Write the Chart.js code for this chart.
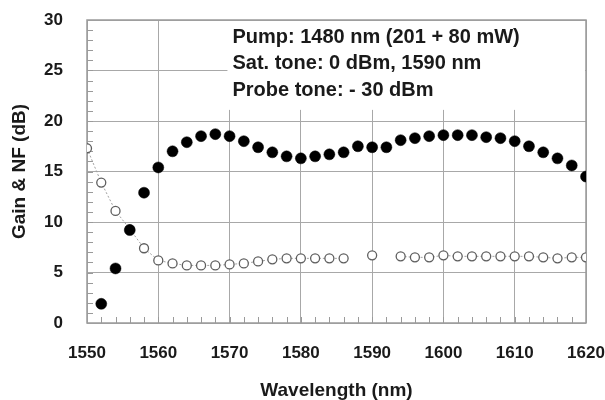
<!DOCTYPE html>
<html>
<head>
<meta charset="utf-8">
<script src="https://cdn.jsdelivr.net/npm/chart.js@4.4.1/dist/chart.umd.min.js"></script>
<style>
  html, body { margin: 0; padding: 0; background: #fff; }
  #wrap { width: 605px; height: 400px; }
</style>
</head>
<body>
<div id="wrap"><canvas id="chart"></canvas></div>
<script>
// gain (filled circles)
const gainWl = [1552, 1554, 1556, 1558, 1560, 1562, 1564, 1566, 1568, 1570, 1572, 1574,
  1576, 1578, 1580, 1582, 1584, 1586, 1588, 1590, 1592, 1594, 1596, 1598, 1600, 1602,
  1604, 1606, 1608, 1610, 1612, 1614, 1616, 1618, 1620];
const gainDb = [1.9, 5.4, 9.2, 12.9, 15.4, 17.0, 17.9, 18.5, 18.7, 18.5, 18.0, 17.4,
  16.9, 16.5, 16.3, 16.5, 16.7, 16.9, 17.5, 17.4, 17.4, 18.1, 18.3, 18.5, 18.6, 18.6,
  18.6, 18.4, 18.3, 18.0, 17.5, 16.9, 16.3, 15.6, 14.5];

// noise figure (open circles), null = no measurement
const nfWl = [1550, 1552, 1554, 1556, 1558, 1560, 1562, 1564, 1566, 1568, 1570, 1572,
  1574, 1576, 1578, 1580, 1582, 1584, 1586, 1588, 1590, 1592, 1594, 1596, 1598, 1600,
  1602, 1604, 1606, 1608, 1610, 1612, 1614, 1616, 1618, 1620];
const nfDb = [17.3, 13.9, 11.1, 9.3, 7.4, 6.2, 5.9, 5.7, 5.7, 5.7, 5.8, 5.9,
  6.1, 6.3, 6.4, 6.4, 6.4, 6.4, 6.4, null, 6.7, null, 6.6, 6.5, 6.5, 6.7,
  6.6, 6.6, 6.6, 6.6, 6.6, 6.6, 6.5, 6.4, 6.5, 6.5];

const xTicks = [1550, 1560, 1570, 1580, 1590, 1600, 1610, 1620];
const yTicks = [0, 5, 10, 15, 20, 25, 30];

const noteLines = [
  "Pump: 1480 nm (201 + 80 mW)",
  "Sat. tone: 0 dBm, 1590 nm",
  "Probe tone: - 30 dBm"
];

const axisGray = "#9a9a9a";
const fontFamily = "'Liberation Sans', Arial, sans-serif";

const frame = {
  id: "frame",
  beforeDatasetsDraw(chart) {
    const { ctx, chartArea: a, scales: { x, y } } = chart;
    ctx.save();
    // white box behind the note
    const bx = x.getPixelForValue(1569.7);
    const by = y.getPixelForValue(21.2);
    ctx.fillStyle = "#fff";
    ctx.fillRect(bx, a.top + 1, a.right - bx - 1, by - a.top);
    // minor ticks, pointing inward
    ctx.strokeStyle = axisGray;
    ctx.lineWidth = 1;
    ctx.beginPath();
    for (let v = 1; v < 30; v++) {
      const py = Math.round(y.getPixelForValue(v)) + 0.5;
      ctx.moveTo(a.left, py);
      ctx.lineTo(a.left + 6, py);
    }
    for (let v = 1552; v < 1620; v += 2) {
      const px = Math.round(x.getPixelForValue(v)) + 0.5;
      ctx.moveTo(px, a.bottom);
      ctx.lineTo(px, a.bottom - 6);
    }
    ctx.stroke();
    // frame
    ctx.lineWidth = 1.5;
    ctx.strokeRect(a.left, a.top, a.right - a.left, a.bottom - a.top);
    ctx.restore();
  },
  afterDraw(chart) {
    const { ctx, scales: { x } } = chart;
    ctx.save();
    ctx.fillStyle = "#1a1a1a";
    ctx.font = "bold 20px " + fontFamily;
    ctx.textBaseline = "middle";
    const tx = x.getPixelForValue(1570.4);
    noteLines.forEach((s, i) => {
      ctx.fillText(s, tx, 37 + i * 26.5);
    });
    ctx.restore();
  }
};

const ctx = document.getElementById("chart").getContext("2d");
new Chart(ctx, {
  type: "scatter",
  data: {
    datasets: [
      {
        label: "Gain",
        data: gainWl.map((w, i) => ({ x: w, y: gainDb[i] })),
        showLine: false,
        pointStyle: "circle",
        pointRadius: 5.5,
        pointBackgroundColor: "#000",
        pointBorderColor: "#000",
        pointBorderWidth: 0.5
      },
      {
        label: "NF",
        data: nfWl.map((w, i) => ({ x: w, y: nfDb[i] })),
        showLine: true,
        spanGaps: false,
        borderColor: "#a0a0a0",
        borderWidth: 1,
        borderDash: [2, 2],
        pointStyle: "circle",
        pointRadius: 4.5,
        pointBackgroundColor: "#fff",
        pointBorderColor: "#5e5e5e",
        pointBorderWidth: 1.3
      }
    ]
  },
  options: {
    responsive: true,
    maintainAspectRatio: false,
    animation: false,
    layout: { padding: { left: 0, right: 19, top: 20, bottom: 0 } },
    plugins: {
      legend: { display: false },
      tooltip: { enabled: false }
    },
    scales: {
      x: {
        type: "linear",
        min: 1550,
        max: 1620,
        afterBuildTicks: (s) => { s.ticks = xTicks.map(v => ({ value: v })); },
        afterFit: (s) => { s.height = 77; s.paddingLeft = 0; s.paddingRight = 0; },
        grid: { color: "#a8a8a8", lineWidth: 1, drawTicks: false },
        border: { display: false },
        ticks: {
          padding: 20,
          color: "#1a1a1a",
          callback: (v) => String(v),
          font: { family: fontFamily, size: 17, weight: "bold" }
        },
        title: {
          display: true,
          text: "Wavelength (nm)",
          color: "#1a1a1a",
          padding: { top: 0, bottom: 0 },
          font: { family: fontFamily, size: 19, weight: "bold", lineHeight: 1 }
        }
      },
      y: {
        type: "linear",
        min: 0,
        max: 30,
        afterBuildTicks: (s) => { s.ticks = yTicks.map(v => ({ value: v })); },
        afterFit: (s) => { s.width = 87; s.paddingTop = 0; s.paddingBottom = 0; },
        grid: { color: "#a8a8a8", lineWidth: 1, drawTicks: false },
        border: { display: false },
        ticks: {
          padding: 24,
          color: "#1a1a1a",
          callback: (v) => String(v),
          font: { family: fontFamily, size: 17, weight: "bold" }
        },
        title: {
          display: true,
          text: "Gain & NF (dB)",
          color: "#1a1a1a",
          padding: { top: 10.5, bottom: 0 },
          font: { family: fontFamily, size: 19, weight: "bold", lineHeight: 1 }
        }
      }
    }
  },
  plugins: [frame]
});
</script>
</body>
</html>
